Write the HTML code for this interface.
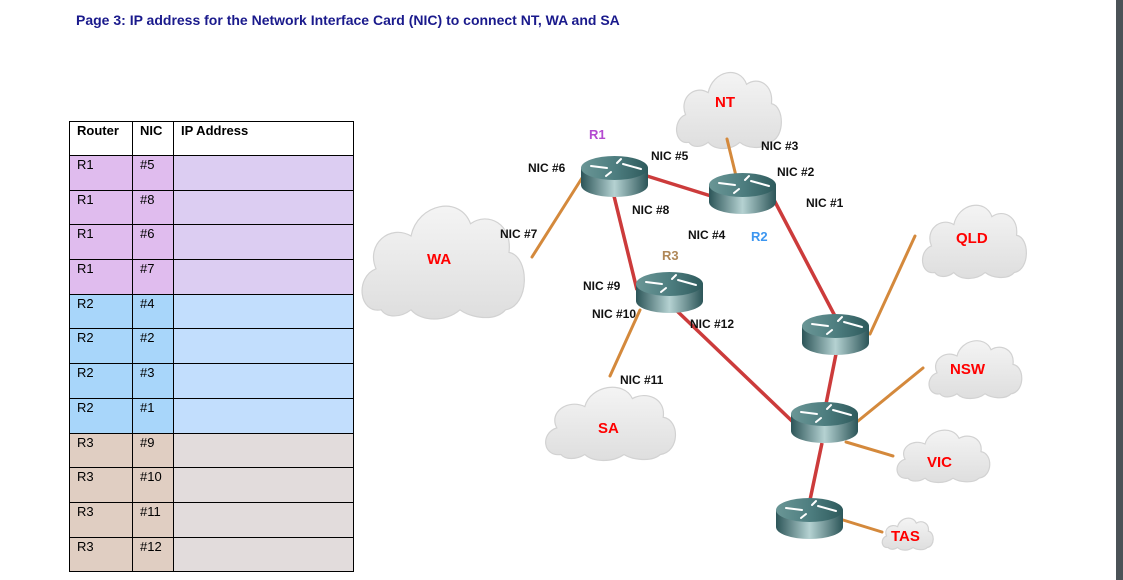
<!DOCTYPE html>
<html><head><meta charset="utf-8"><style>
body{margin:0;width:1123px;height:580px;background:#fff;position:relative;overflow:hidden;font-family:"Liberation Sans",sans-serif}
.title{position:absolute;left:76px;top:12px;font-size:14px;font-weight:bold;color:#1a1a8c}
table{position:absolute;left:69px;top:121px;border-collapse:collapse;font-size:13px;table-layout:fixed;width:284px}
td{border:1px solid #000;height:34.7px;vertical-align:top;padding:1px 0 0 7px;box-sizing:border-box;overflow:hidden}
th{border:1px solid #000;height:34px;vertical-align:top;text-align:left;padding:1px 0 0 7px;font-size:13px;box-sizing:border-box}
.p1{background:#e0bcee}.p2{background:#dccdf2}
.b1{background:#a8d6fa}.b2{background:#c2defd}
.r1{background:#e0cec2}.r2{background:#e2dcdc}
.sb{position:absolute;left:1116px;top:0;width:7px;height:580px;background:#4b5257}
svg{position:absolute;left:0;top:0}
</style></head><body>
<div class="title">Page 3: IP address for the Network Interface Card (NIC) to connect NT, WA and SA</div>
<table>
<colgroup><col style="width:63px"><col style="width:41px"><col style="width:180px"></colgroup>
<tr><th>Router</th><th>NIC</th><th>IP Address</th></tr>
<tr><td class="p1">R1</td><td class="p1">#5</td><td class="p2"></td></tr>
<tr><td class="p1">R1</td><td class="p1">#8</td><td class="p2"></td></tr>
<tr><td class="p1">R1</td><td class="p1">#6</td><td class="p2"></td></tr>
<tr><td class="p1">R1</td><td class="p1">#7</td><td class="p2"></td></tr>
<tr><td class="b1">R2</td><td class="b1">#4</td><td class="b2"></td></tr>
<tr><td class="b1">R2</td><td class="b1">#2</td><td class="b2"></td></tr>
<tr><td class="b1">R2</td><td class="b1">#3</td><td class="b2"></td></tr>
<tr><td class="b1">R2</td><td class="b1">#1</td><td class="b2"></td></tr>
<tr><td class="r1">R3</td><td class="r1">#9</td><td class="r2"></td></tr>
<tr><td class="r1">R3</td><td class="r1">#10</td><td class="r2"></td></tr>
<tr><td class="r1">R3</td><td class="r1">#11</td><td class="r2"></td></tr>
<tr><td class="r1">R3</td><td class="r1">#12</td><td class="r2"></td></tr>
</table>
<svg width="1123" height="580" viewBox="0 0 1123 580">
<defs>
<linearGradient id="cg" x1="0" y1="0" x2="0" y2="1"><stop offset="0" stop-color="#f4f4f4"/><stop offset="1" stop-color="#dedede"/></linearGradient>
<linearGradient id="rb" x1="0" y1="0" x2="1" y2="0"><stop offset="0" stop-color="#2c5558"/><stop offset="0.5" stop-color="#b5d2d2"/><stop offset="1" stop-color="#2c5558"/></linearGradient>
<linearGradient id="rt" x1="0" y1="0" x2="1" y2="0"><stop offset="0" stop-color="#6a9696"/><stop offset="0.5" stop-color="#4e7e80"/><stop offset="1" stop-color="#2e5a5c"/></linearGradient>
<g id="cl"><path d="M15,56 C2,58 0,40 12,36 C6,24 20,14 32,20 C36,4 60,0 66,14 C76,8 90,14 88,28 C100,30 100,54 86,56 C80,62 66,60 60,56 C52,62 38,62 32,56 C26,60 18,60 15,56 Z" fill="url(#cg)" stroke="#d2d2d2" stroke-width="1.2" vector-effect="non-scaling-stroke"/></g>
<g id="rt1">
<path d="M0,13 L0,30 A33.5,12 0 0 0 67,30 L67,13 Z" fill="url(#rb)"/>
<ellipse cx="33.5" cy="13" rx="33.5" ry="12" fill="url(#rt)"/>
<g stroke="#fff" stroke-width="2" fill="none" stroke-linecap="round">
<path d="M10,11 L26,13"/><path d="M42,9 L60,14"/><path d="M36,8 L40,4"/><path d="M30,17 L25,21"/>
</g></g>
</defs>
<use href="#cl" transform="translate(672,65) scale(1.13,1.38)"/>
<use href="#cl" transform="translate(355,195) scale(1.75,2.05)"/>
<use href="#cl" transform="translate(918,198) scale(1.12,1.33)"/>
<use href="#cl" transform="translate(925,335) scale(1.0,1.05)"/>
<use href="#cl" transform="translate(893,425) scale(1.0,0.95)"/>
<use href="#cl" transform="translate(880,515) scale(0.55,0.58)"/>
<use href="#cl" transform="translate(540,380) scale(1.4,1.33)"/>
<g stroke="#d4893c" stroke-width="3" stroke-linecap="round">
<line x1="582" y1="178" x2="532" y2="257"/>
<line x1="736" y1="176" x2="727" y2="139"/>
<line x1="640" y1="310" x2="610" y2="376"/>
<line x1="870" y1="334" x2="915" y2="236"/>
<line x1="858" y1="421" x2="923" y2="368"/>
<line x1="846" y1="442" x2="893" y2="456"/>
<line x1="843" y1="520" x2="882" y2="532"/>
</g>
<g stroke="#cc3b3b" stroke-width="3.5">
<line x1="647" y1="176" x2="711" y2="196"/>
<line x1="614" y1="196" x2="637" y2="290"/>
<line x1="773" y1="198" x2="836" y2="318"/>
<line x1="676" y1="310" x2="793" y2="422"/>
<line x1="836" y1="354" x2="826" y2="404"/>
<line x1="822" y1="443" x2="810" y2="500"/>
</g>
<use href="#rt1" transform="translate(581,155)"/>
<use href="#rt1" transform="translate(709,172)"/>
<use href="#rt1" transform="translate(636,271)"/>
<use href="#rt1" transform="translate(802,313)"/>
<use href="#rt1" transform="translate(791,401)"/>
<use href="#rt1" transform="translate(776,497)"/>
<g font-family="Liberation Sans, sans-serif" font-weight="bold" font-size="15" fill="#f00">
<text x="715" y="107">NT</text><text x="427" y="264">WA</text><text x="956" y="243">QLD</text>
<text x="950" y="374">NSW</text><text x="927" y="467">VIC</text><text x="891" y="541">TAS</text><text x="598" y="433">SA</text>
</g>
<g font-family="Liberation Sans, sans-serif" font-weight="bold" font-size="13">
<text x="589" y="139" fill="#b44ad0">R1</text><text x="751" y="241" fill="#3c96f0">R2</text><text x="662" y="260" fill="#b08858">R3</text>
</g>
<g font-family="Liberation Sans, sans-serif" font-weight="bold" font-size="12" fill="#111">
<text x="528" y="172">NIC #6</text><text x="651" y="160">NIC #5</text><text x="632" y="214">NIC #8</text>
<text x="500" y="238">NIC #7</text><text x="688" y="239">NIC #4</text><text x="761" y="150">NIC #3</text>
<text x="777" y="176">NIC #2</text><text x="806" y="207">NIC #1</text><text x="583" y="290">NIC #9</text>
<text x="592" y="318">NIC #10</text><text x="690" y="328">NIC #12</text><text x="620" y="384">NIC #11</text>
</g>
</svg>
<div class="sb"></div>
</body></html>
